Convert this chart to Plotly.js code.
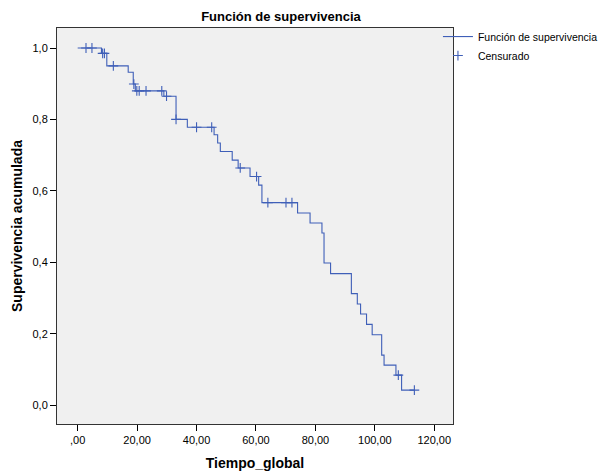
<!DOCTYPE html>
<html>
<head>
<meta charset="utf-8">
<script src="https://cdn.plot.ly/plotly-3.0.1.min.js"></script>
<style>html,body{margin:0;padding:0;background:#fff;}</style>
</head>
<body>
<div id="chart" style="width:598px;height:475px;"></div>
<script>
// Kaplan-Meier step curve: event times and survival after each event
const eventTimes = [0, 8.0, 9.8, 17.0, 18.7, 19.4, 29.0, 33.1, 36.9, 45.9, 47.1, 48.0, 52.0, 54.0, 58.0, 60.9, 62.0, 74.0, 78.2, 82.2, 82.9, 85.1, 92.1, 94.1, 95.2, 97.2, 99.1, 102.3, 103.1, 107.1, 109.0];
const survival   = [1.0, 0.985, 0.950, 0.932, 0.899, 0.880, 0.865, 0.800, 0.778, 0.757, 0.734, 0.710, 0.686, 0.664, 0.640, 0.616, 0.567, 0.538, 0.510, 0.482, 0.398, 0.368, 0.312, 0.283, 0.255, 0.226, 0.197, 0.140, 0.112, 0.084, 0.042];
// Censored observations
const censorTimes = [2.8, 4.8, 8.4, 9.0, 12.0, 18.9, 19.9, 20.7, 23.0, 28.3, 29.9, 33.1, 40.0, 45.1, 54.7, 60.2, 64.0, 70.1, 72.1, 107.9, 113.3];
const censorSurv  = [1.0, 1.0, 0.985, 0.985, 0.950, 0.899, 0.880, 0.880, 0.880, 0.880, 0.865, 0.800, 0.778, 0.778, 0.664, 0.640, 0.567, 0.567, 0.567, 0.084, 0.042];
// Axis ticks
const xTickVals = [0, 20, 40, 60, 80, 100, 120];
const xTickText = [",00", "20,00", "40,00", "60,00", "80,00", "100,00", "120,00"];
const yTickVals = [0, 0.2, 0.4, 0.6, 0.8, 1.0];
const yTickText = ["0,0", "0,2", "0,4", "0,6", "0,8", "1,0"];

const lastT = censorTimes[censorTimes.length - 1];
const curveX = eventTimes.concat([lastT]);
const curveY = survival.concat([survival[survival.length - 1]]);

const blue = '#3f5fb8';
const font = 'Liberation Sans, Arial, sans-serif';

const traces = [
  {
    x: curveX, y: curveY, type: 'scatter', mode: 'lines',
    line: {shape: 'hv', color: blue, width: 1.1},
    name: 'Función de supervivencia', hoverinfo: 'skip'
  },
  {
    x: censorTimes, y: censorSurv, type: 'scatter', mode: 'markers',
    marker: {symbol: 'cross-thin-open', size: 7, color: blue, line: {color: blue, width: 1.1}},
    name: 'Censurado', hoverinfo: 'skip'
  }
];

const layout = {
  width: 598, height: 475,
  margin: {l: 57, r: 145, t: 28, b: 51, pad: 0, autoexpand: false},
  paper_bgcolor: '#ffffff',
  plot_bgcolor: '#f0f0f0',
  font: {family: font, size: 11, color: '#000'},
  title: {
    text: '<b>Función de supervivencia</b>',
    font: {family: font, size: 13, color: '#000'},
    x: 281/598, xanchor: 'center', xref: 'container',
    y: 1 - 16/475, yanchor: 'middle', yref: 'container'
  },
  xaxis: {
    range: [-6.96, 126.3], tickvals: xTickVals, ticktext: xTickText,
    ticks: 'outside', ticklen: 6, tickcolor: '#000', tickwidth: 1,
    showline: true, linecolor: '#333', linewidth: 1, mirror: true,
    showgrid: false, zeroline: false,
    tickfont: {family: font, size: 11, color: '#000'},
    title: {text: '<b>Tiempo_global</b>', font: {family: font, size: 14, color: '#000'}, standoff: 12}
  },
  yaxis: {
    range: [-0.053, 1.056], tickvals: yTickVals, ticktext: yTickText,
    ticks: 'outside', ticklen: 6, tickcolor: '#000', tickwidth: 1,
    showline: true, linecolor: '#333', linewidth: 1, mirror: true,
    showgrid: false, zeroline: false,
    tickfont: {family: font, size: 11, color: '#000'},
    title: {text: '<b>Supervivencia acumulada</b>', font: {family: font, size: 14, color: '#000'}, standoff: 6}
  },
  showlegend: true,
  legend: {
    x: 0.962, xanchor: 'left', y: 1.015, yanchor: 'top',
    bgcolor: 'rgba(0,0,0,0)', borderwidth: 0,
    font: {family: font, size: 10.5, color: '#000'},
    tracegroupgap: 0, itemwidth: 30
  }
};

Plotly.newPlot('chart', traces, layout, {displayModeBar: false, staticPlot: true});
</script>
</body>
</html>
